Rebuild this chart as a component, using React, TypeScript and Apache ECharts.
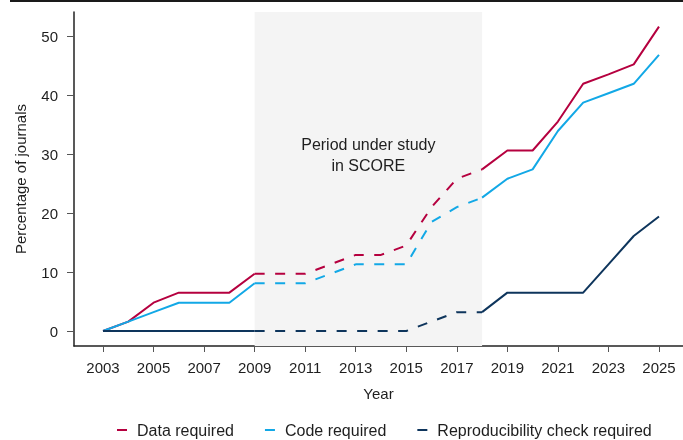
import React, { useEffect, useRef } from "react";
import * as echarts from "echarts";

const years = [2003, 2004, 2005, 2006, 2007, 2008, 2009, 2010, 2011, 2012, 2013, 2014, 2015, 2016, 2017, 2018, 2019, 2020, 2021, 2022, 2023, 2024, 2025];
const dataRequired = [0, 1.6, 4.8, 6.5, 6.5, 6.5, 9.7, 9.7, 9.7, 11.3, 12.9, 12.9, 14.5, 21.0, 25.8, 27.4, 30.6, 30.6, 35.5, 41.9, 43.5, 45.2, 51.6];
const codeRequired = [0, 1.6, 3.2, 4.8, 4.8, 4.8, 8.1, 8.1, 8.1, 9.7, 11.3, 11.3, 11.3, 18.5, 21.0, 22.6, 25.8, 27.4, 33.9, 38.7, 40.3, 41.9, 46.8];
const reproRequired = [0, 0, 0, 0, 0, 0, 0, 0, 0, 0, 0, 0, 0, 1.6, 3.2, 3.2, 6.5, 6.5, 6.5, 6.5, 11.3, 16.1, 19.4];
const seriesNames = ["Data required", "Code required", "Reproducibility check required"];
const seriesColors = ["#b5003f", "#12a8e6", "#0e355c"];
const periodStart = 2009;
const periodEnd = 2018;
const periodLabel = "Period under study\nin SCORE";
const xTicks = [2003, 2005, 2007, 2009, 2011, 2013, 2015, 2017, 2019, 2021, 2023, 2025];
const yTicks = [0, 10, 20, 30, 40, 50];

const FONT = "'Liberation Sans', Arial, Helvetica, sans-serif";

export default function App() {
  const ref = useRef<HTMLDivElement>(null);
  useEffect(() => {
    if (!ref.current) return;
    const chart = echarts.init(ref.current, undefined, { renderer: "svg" });
    const all = [dataRequired, codeRequired, reproRequired];
    const series: any[] = [];
    all.forEach((vals, k) => {
      const solid = years.map((y, i) => [y, y > periodStart && y < periodEnd ? null : vals[i]]);
      const dashed = years
        .map((y, i) => [y, vals[i]])
        .filter((p) => p[0] >= periodStart && p[0] <= periodEnd);
      const s: any = {
        name: seriesNames[k],
        type: "line",
        data: solid,
        showSymbol: false,
        symbol: "none",
        connectNulls: false,
        lineStyle: { color: seriesColors[k], width: 2 },
        itemStyle: { color: seriesColors[k] },
        z: 3 + k,
      };
      if (k === 0) {
        s.markArea = {
          silent: true,
          itemStyle: { color: "#f4f4f4" },
          label: {
            show: true,
            position: "inside",
            offset: [0, -24],
            formatter: periodLabel,
            color: "#1e1e1e",
            fontSize: 16,
            lineHeight: 21,
            fontFamily: FONT,
            align: "center",
          },
          data: [[{ xAxis: periodStart }, { xAxis: periodEnd }]],
        };
      }
      series.push(s);
      series.push({
        name: seriesNames[k],
        type: "line",
        data: dashed,
        showSymbol: false,
        symbol: "none",
        lineStyle: { color: seriesColors[k], width: 2, type: [10, 10.5] },
        itemStyle: { color: seriesColors[k] },
        z: 3 + k,
      });
    });
    chart.setOption({
      animation: false,
      textStyle: { fontFamily: FONT },
      grid: { left: 74, top: 12, right: 0, bottom: 94, containLabel: false },
      graphic: [
        { type: "rect", left: 10, top: 0, shape: { width: 673, height: 2 }, style: { fill: "#1a1a1a" } },
      ],
      legend: {
        data: seriesNames,
        left: 117,
        top: 421,
        padding: 0,
        icon: "rect",
        itemWidth: 10,
        itemHeight: 2,
        itemGap: 31,
        textStyle: { fontSize: 16, lineHeight: 18, color: "#1e1e1e", fontFamily: FONT, padding: [0, 0, 0, 5] },
      },
      xAxis: {
        type: "value",
        min: 2001.852,
        max: 2025.95,
        name: "Year",
        nameLocation: "middle",
        nameGap: 40,
        nameTextStyle: { fontSize: 15, color: "#1e1e1e", fontFamily: FONT },
        splitLine: { show: false },
        axisLine: { show: true, onZero: false, lineStyle: { color: "#222", width: 1.5 } },
        axisTick: { show: true, length: 6, customValues: xTicks, lineStyle: { color: "#555", width: 1 } },
        axisLabel: {
          customValues: xTicks,
          margin: 14,
          fontSize: 15,
          color: "#1e1e1e",
          fontFamily: FONT,
          formatter: (v: number) => String(v),
        },
      },
      yAxis: {
        type: "value",
        min: -2.54,
        max: 54.07,
        name: "Percentage of journals",
        nameLocation: "middle",
        nameGap: 46,
        nameTextStyle: { fontSize: 15, color: "#1e1e1e", fontFamily: FONT },
        splitLine: { show: false },
        axisLine: { show: true, onZero: false, lineStyle: { color: "#222", width: 1.5 } },
        axisTick: { show: true, length: 7, customValues: yTicks, lineStyle: { color: "#555", width: 1 } },
        axisLabel: {
          customValues: yTicks,
          margin: 16,
          fontSize: 15,
          color: "#1e1e1e",
          fontFamily: FONT,
        },
      },
      series,
    });
    return () => chart.dispose();
  }, []);
  return <div ref={ref} style={{ position: "fixed", left: 0, top: 0, width: 683, height: 440 }} />;
}
